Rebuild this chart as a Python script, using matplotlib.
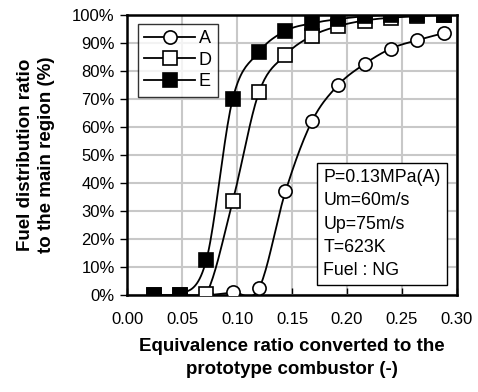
import numpy as np
import matplotlib
matplotlib.use("Agg")
import matplotlib.pyplot as plt

plt.rcParams['font.family'] = ['Liberation Sans', 'DejaVu Sans']

# equivalence ratio (x) and fuel distribution ratio (%) for each burner
phi = [0.024, 0.048, 0.072, 0.096, 0.120, 0.144, 0.168, 0.192, 0.216, 0.240, 0.264, 0.288]
ratio_A = [0.0, 0.0, 0.0, 1.0, 2.5, 37.0, 62.0, 75.0, 82.5, 88.0, 91.0, 93.5]
ratio_D = [0.0, 0.0, 0.5, 33.5, 72.5, 85.7, 92.5, 96.0, 98.0, 99.0, 99.5, 100.0]
ratio_E = [0.0, 0.0, 12.5, 70.0, 86.8, 94.3, 97.0, 98.5, 99.5, 100.0, 100.0, 100.0]

conditions = ["P=0.13MPa(A)", "Um=60m/s", "Up=75m/s", "T=623K", "Fuel : NG"]


def smooth(x, y, n=20):
    """Catmull-Rom curve through the points, like Excel's smoothed line"""
    x = np.asarray(x, float)
    y = np.asarray(y, float)
    px = np.concatenate([[2 * x[0] - x[1]], x, [2 * x[-1] - x[-2]]])
    py = np.concatenate([[2 * y[0] - y[1]], y, [2 * y[-1] - y[-2]]])
    xs, ys = [], []
    t = np.linspace(0, 1, n, endpoint=False)
    for i in range(1, len(px) - 2):
        p0x, p1x, p2x, p3x = px[i - 1:i + 3]
        p0y, p1y, p2y, p3y = py[i - 1:i + 3]
        t2, t3 = t * t, t * t * t
        xs.append(0.5 * (2 * p1x + (-p0x + p2x) * t + (2 * p0x - 5 * p1x + 4 * p2x - p3x) * t2
                         + (-p0x + 3 * p1x - 3 * p2x + p3x) * t3))
        ys.append(0.5 * (2 * p1y + (-p0y + p2y) * t + (2 * p0y - 5 * p1y + 4 * p2y - p3y) * t2
                         + (-p0y + 3 * p1y - 3 * p2y + p3y) * t3))
    xs.append([x[-1]])
    ys.append([y[-1]])
    return np.concatenate(xs), np.concatenate(ys)


fig = plt.figure(figsize=(4.78, 3.92), dpi=100)
ax = fig.add_axes([0.266, 0.247, 0.690, 0.715])

series = [
    ("A", ratio_A, dict(marker='o', mfc='white')),
    ("D", ratio_D, dict(marker='s', mfc='white')),
    ("E", ratio_E, dict(marker='s', mfc='black')),
]
for name, vals, style in series:
    sx, sy = smooth(phi, vals)
    ax.plot(sx, sy, color='black', lw=1.3, zorder=3)
    ax.plot(phi, vals, ls='none', mec='black', mew=1.2, ms=9.5, zorder=4, **style)
    ax.plot([], [], color='black', lw=1.3, mec='black', mew=1.2, ms=9.5, label=name, **style)

ax.set_xlim(0, 0.30)
ax.set_ylim(0, 100)
ax.set_xticks(np.arange(0, 0.301, 0.05))
ax.set_xticklabels([f"{v:.2f}" for v in np.arange(0, 0.301, 0.05)])
ax.set_yticks(np.arange(0, 101, 10))
ax.set_yticklabels([f"{v}%" for v in range(0, 101, 10)])
ax.grid(True, color='#c8c8c8', lw=1.5, zorder=0)
ax.set_axisbelow(True)
for s in ax.spines.values():
    s.set_linewidth(1.8)
ax.tick_params(axis='x', direction='in', length=5, width=1, labelsize=12, pad=12)
ax.tick_params(axis='y', direction='out', length=5, width=1, labelsize=12, pad=4)

ax.set_xlabel("Equivalence ratio converted to the\nprototype combustor (-)",
              fontsize=13.5, fontweight='bold', linespacing=1.5, labelpad=8)
ax.set_ylabel("Fuel distribution ratio\nto the main region (%)",
              fontsize=13.5, fontweight='bold', linespacing=1.3, labelpad=12)

leg = ax.legend(loc='upper left', bbox_to_anchor=(0.033, 0.968), borderaxespad=0,
                fontsize=13, frameon=True, fancybox=False, edgecolor='black',
                handlelength=2.8, borderpad=0.35, labelspacing=0.25, handletextpad=0.2)
leg.get_frame().set_linewidth(1.0)

ax.text(0.595, 0.45, "\n".join(conditions), transform=ax.transAxes, fontsize=12.8,
        va='top', ha='left', linespacing=1.48,
        bbox=dict(boxstyle='square,pad=0.35', fc='white', ec='black', lw=1.0))

fig.savefig("out.png", dpi=100)
